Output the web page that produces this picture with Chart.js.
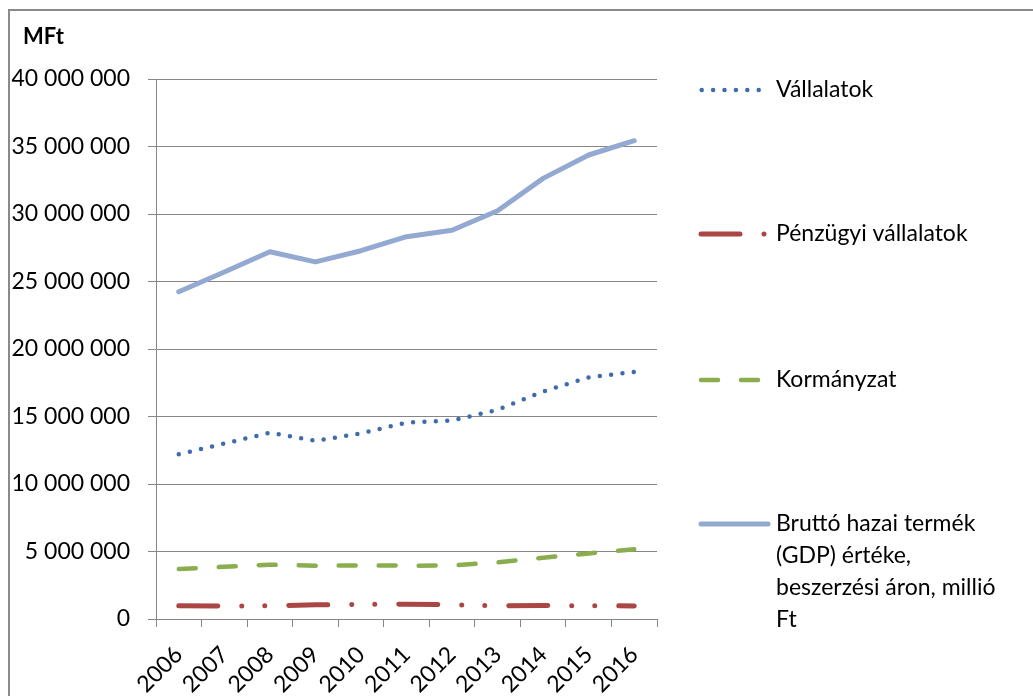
<!DOCTYPE html>
<html>
<head>
<meta charset="utf-8">
<script src="https://cdn.jsdelivr.net/npm/chart.js@4/dist/chart.umd.min.js"></script>
<style>
  html, body { margin: 0; padding: 0; background: #fff; }
  #wrap { width: 1033px; height: 696px; position: relative; }
</style>
</head>
<body>
<div id="wrap"><canvas id="chart"></canvas></div>
<script>
// ── DATA ──────────────────────────────────────────────────────────────────
const YEARS = ['2006','2007','2008','2009','2010','2011','2012','2013','2014','2015','2016'];

const VALLALATOK = [12200000, 13000000, 13800000, 13200000, 13750000, 14550000, 14700000, 15500000, 16850000, 17900000, 18300000];
const PENZUGYI   = [980000, 960000, 980000, 1050000, 1080000, 1100000, 1050000, 980000, 1000000, 980000, 970000];
const KORMANYZAT = [3700000, 3870000, 4020000, 3950000, 3970000, 3950000, 3960000, 4200000, 4540000, 4860000, 5160000];
const GDP        = [24240000, 25700000, 27200000, 26450000, 27280000, 28320000, 28800000, 30240000, 32640000, 34370000, 35430000];

const LABELS = [
  'Vállalatok',
  'Pénzügyi vállalatok',
  'Kormányzat',
  'Bruttó hazai termék\n(GDP) értéke,\nbeszerzési áron, millió\nFt'
];

const Y_MAX  = 40000000;
const Y_STEP = 5000000;

// ── STYLE ─────────────────────────────────────────────────────────────────
const FONT  = "Lato, 'Open Sans', sans-serif";
const GRID  = '#868686';
const COLORS = ['#3E6BAE', '#AA4643', '#8AAD4E', '#93A9D2'];

Chart.defaults.font.family = FONT;
Chart.defaults.font.size   = 23;
Chart.defaults.color       = '#000';

const fmt = v => String(v).replace(/\B(?=(\d{3})+(?!\d))/g, ' ');

// legend sample geometry (right hand side block)
const LEGEND = [
  { y: 90,  x0: 701.7, x1: 761 },
  { y: 234, x0: 701,   x1: 766 },
  { y: 380, x0: 701,   x1: 760 },
  { y: 524, x0: 701,   x1: 768 },
];

const decorPlugin = {
  id: 'decor',
  beforeDraw(chart) {
    const c = chart.ctx;
    c.save();
    c.strokeStyle = '#8a8a8a';
    c.lineWidth = 2;
    c.beginPath();
    c.moveTo(9, 700);
    c.lineTo(9, 10);
    c.lineTo(1040, 10);
    c.stroke();
    c.fillStyle = '#000';
    c.font = 'bold 22px ' + FONT;
    c.textBaseline = 'middle';
    c.fillText('MFt', 23, 37);
    c.restore();
  },
  afterDraw(chart) {
    const c = chart.ctx;
    c.save();
    chart.data.datasets.forEach((ds, i) => {
      const L = LEGEND[i];
      c.strokeStyle = ds.borderColor;
      c.lineWidth = ds.borderWidth;
      c.lineCap = 'round';
      c.setLineDash(ds.borderDash || []);
      c.beginPath();
      c.moveTo(L.x0, L.y);
      c.lineTo(L.x1, L.y);
      c.stroke();
      c.setLineDash([]);
      c.fillStyle = '#000';
      c.font = '23px ' + FONT;
      c.textBaseline = 'middle';
      LABELS[i].split('\n').forEach((t, k) => c.fillText(t, 776, L.y + k * 32));
    });
    c.restore();
  }
};

function line(label, data, color, width, dash) {
  return {
    label, data,
    borderColor: color, backgroundColor: color,
    borderWidth: width, borderDash: dash,
    borderCapStyle: 'round', borderJoinStyle: 'round',
    pointRadius: 0, tension: 0, fill: false,
  };
}

new Chart(document.getElementById('chart'), {
  type: 'line',
  data: {
    labels: YEARS,
    datasets: [
      line(LABELS[0], VALLALATOK, COLORS[0], 4.5, [0, 11.4]),
      line(LABELS[1], PENZUGYI,   COLORS[1], 5,   [39, 24, 0, 23, 0, 24]),
      line(LABELS[2], KORMANYZAT, COLORS[2], 4.5, [17, 23]),
      line(LABELS[3], GDP,        COLORS[3], 5,   []),
    ]
  },
  options: {
    responsive: true, maintainAspectRatio: false,
    animation: false,
    layout: { padding: { left: 0, top: 79, right: 376, bottom: 0 } },
    plugins: { legend: { display: false }, tooltip: { enabled: false } },
    scales: {
      x: {
        offset: true,
        afterFit: s => { s.height = 77; },
        grid: { drawOnChartArea: false, offset: true, color: GRID, tickLength: 8, lineWidth: 1 },
        border: { color: GRID },
        ticks: { minRotation: 45, maxRotation: 45, autoSkip: false, padding: 14 }
      },
      y: {
        min: 0, max: Y_MAX,
        afterFit: s => { s.width = 156; },
        grid: { color: GRID, tickLength: 8, lineWidth: 1 },
        border: { color: GRID },
        ticks: { stepSize: Y_STEP, padding: 18, callback: v => fmt(v) }
      }
    }
  },
  plugins: [decorPlugin]
});
</script>
</body>
</html>
